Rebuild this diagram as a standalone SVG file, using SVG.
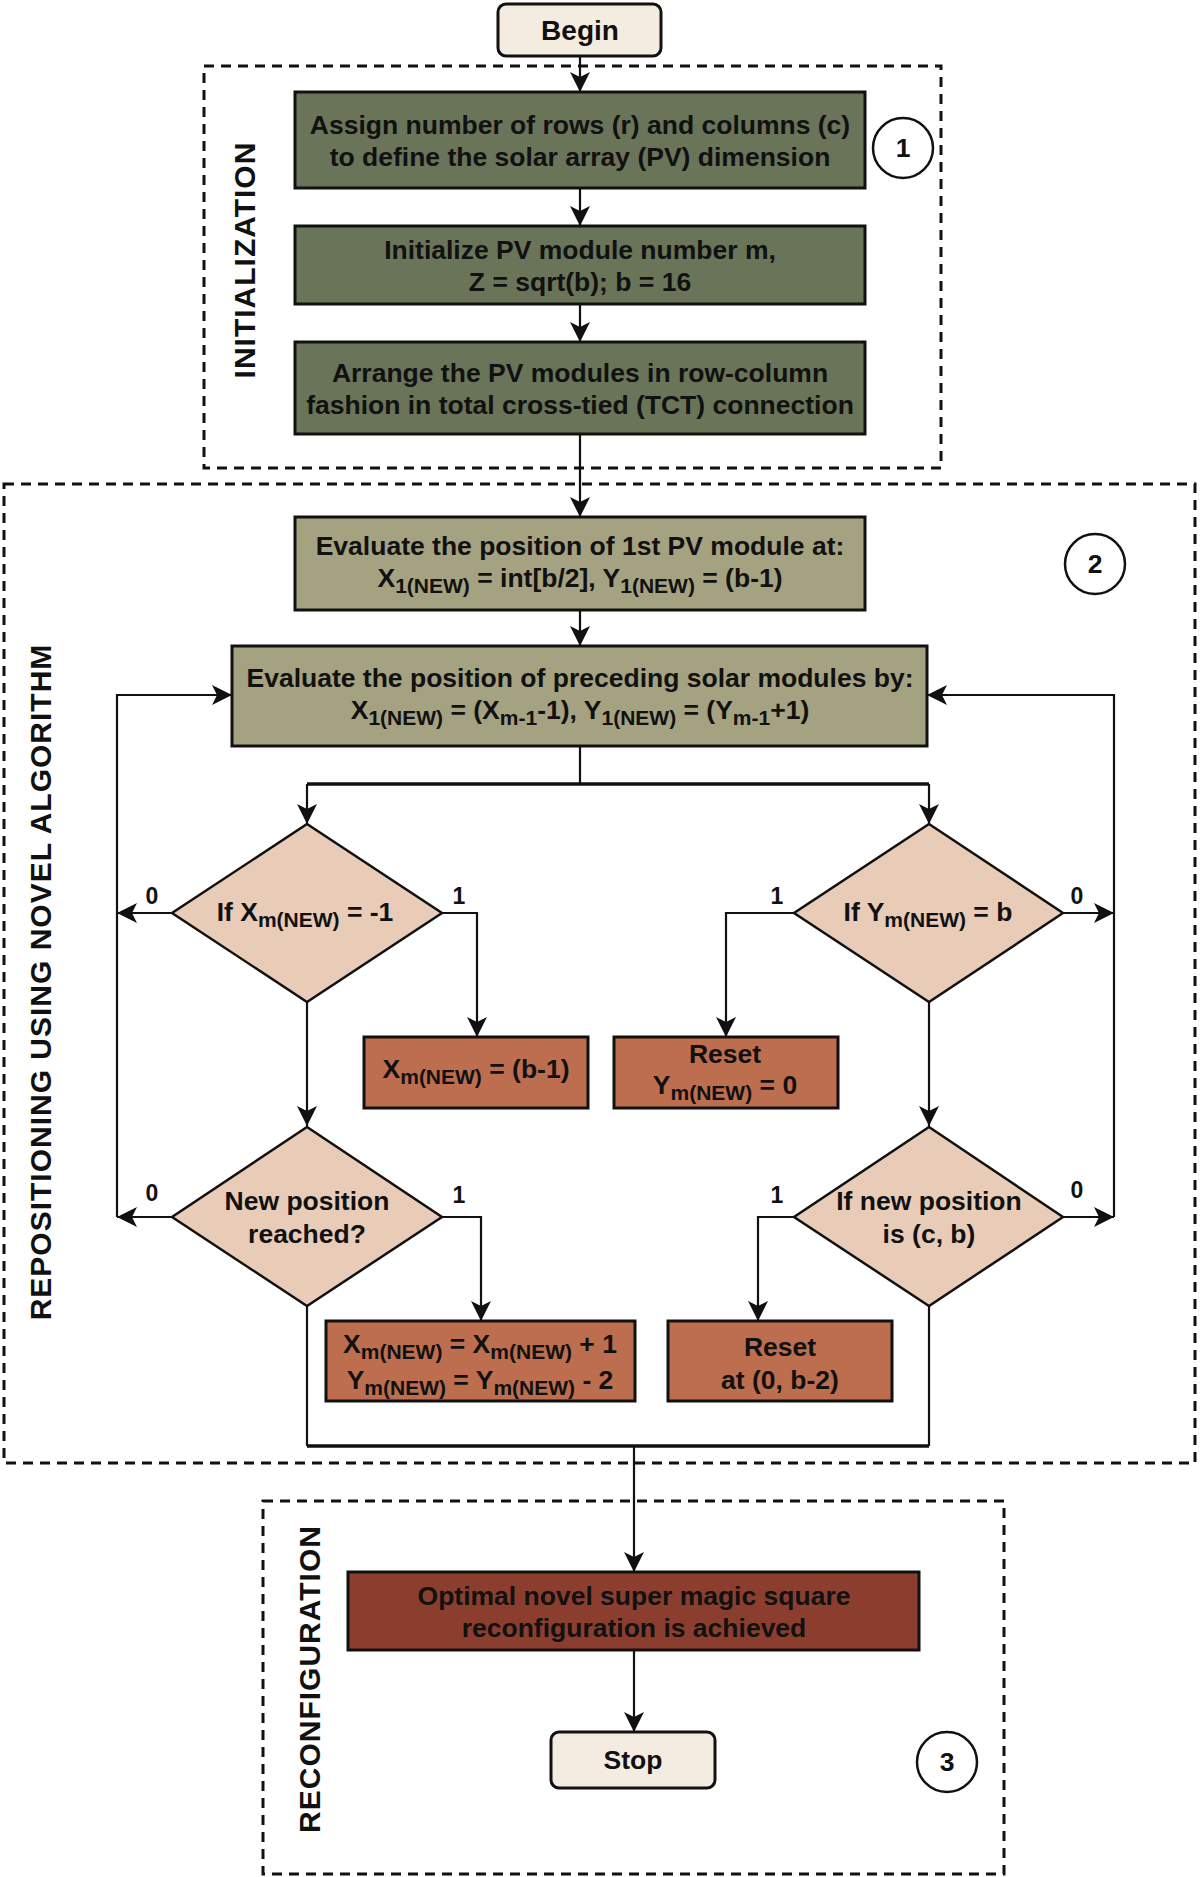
<svg xmlns="http://www.w3.org/2000/svg" width="1200" height="1877" viewBox="0 0 1200 1877">
<defs>
<marker id="arr" markerUnits="userSpaceOnUse" markerWidth="20" markerHeight="20" refX="20" refY="10" orient="auto">
<path d="M0,0 L20,10 L0,20 L5,10 z" fill="#111"/>
</marker>
<style>
.t{font-family:"Liberation Sans",Arial,sans-serif;font-weight:bold;font-size:26.5px;fill:#111;text-anchor:middle}
.lbl{font-family:"Liberation Sans",Arial,sans-serif;font-weight:bold;font-size:23px;fill:#111;text-anchor:middle}
.vt{font-family:"Liberation Sans",Arial,sans-serif;font-weight:bold;font-size:30px;fill:#111;text-anchor:middle;letter-spacing:1px}
.sub{font-size:21px}
.dash{fill:none;stroke:#111;stroke-width:3;stroke-dasharray:10 7}
.term{fill:#f5ece1;stroke:#111;stroke-width:3}
.g1{fill:#6a7458;stroke:#111;stroke-width:3}
.g2{fill:#a5a281;stroke:#111;stroke-width:3}
.dia{fill:#e8ccb8;stroke:#111;stroke-width:2.5}
.or{fill:#bd6e4e;stroke:#111;stroke-width:3}
.rd{fill:#8c3e2e;stroke:#111;stroke-width:3}
.num{fill:#fff;stroke:#111;stroke-width:2.5}
.c{fill:none;stroke:#111;stroke-width:2.2}
.ca{fill:none;stroke:#111;stroke-width:2.2;marker-end:url(#arr)}
.thick{fill:none;stroke:#111;stroke-width:3.5}
</style>
</defs>
<rect width="1200" height="1877" fill="#fff"/>

<g id="groups">
<rect class="dash" x="204" y="66" width="737" height="402"/>
<rect class="dash" x="4" y="484" width="1191" height="979"/>
<rect class="dash" x="263" y="1501" width="741" height="373"/>
<text class="vt" transform="translate(244,260) rotate(-90)" y="10.7">INITIALIZATION</text>
<text class="vt" transform="translate(40,982) rotate(-90)" y="10.7">REPOSITIONING USING NOVEL ALGORITHM</text>
<text class="vt" transform="translate(309,1679) rotate(-90)" y="10.7">RECONFIGURATION</text>
</g>

<g id="connectors">
<line class="ca" x1="580" y1="56" x2="580" y2="92"/>
<line class="ca" x1="580" y1="188" x2="580" y2="226"/>
<line class="ca" x1="580" y1="304" x2="580" y2="342"/>
<line class="ca" x1="580" y1="434" x2="580" y2="517"/>
<line class="ca" x1="580" y1="610" x2="580" y2="646"/>
<line class="c" x1="580" y1="746" x2="580" y2="784"/>
<polyline class="thick" points="307,784 929,784"/>
<line class="ca" x1="307" y1="784" x2="307" y2="824"/>
<line class="ca" x1="929" y1="784" x2="929" y2="824"/>
<line class="ca" x1="172" y1="913" x2="117" y2="913"/>
<polyline class="ca" points="442,913 477,913 477,1037"/>
<line class="ca" x1="307" y1="1002" x2="307" y2="1126"/>
<line class="ca" x1="1063" y1="913" x2="1114" y2="913"/>
<polyline class="ca" points="794,913 726,913 726,1037"/>
<line class="ca" x1="929" y1="1002" x2="929" y2="1126"/>
<line class="ca" x1="172" y1="1217" x2="117" y2="1217"/>
<polyline class="ca" points="442,1217 481,1217 481,1321"/>
<line class="ca" x1="1063" y1="1217" x2="1114" y2="1217"/>
<polyline class="ca" points="794,1217 758,1217 758,1321"/>
<polyline class="ca" points="117,1217 117,695 232,695"/>
<polyline class="ca" points="1114,1217 1114,695 927,695"/>
<line class="c" x1="307" y1="1306" x2="307" y2="1446"/>
<line class="c" x1="929" y1="1306" x2="929" y2="1446"/>
<polyline class="thick" points="307,1446 929,1446"/>
<line class="ca" x1="634" y1="1446" x2="634" y2="1572"/>
<line class="ca" x1="634" y1="1650" x2="634" y2="1732"/>
</g>

<g id="begin">
<rect class="term" x="498" y="4" width="163" height="52" rx="8"/>
<text class="t" x="580" y="40" style="font-size:28px">Begin</text>
</g>

<g id="assign">
<rect class="g1" x="295" y="92" width="570" height="96"/>
<text class="t" x="580" y="133.5">Assign number of rows (r) and columns (c)</text>
<text class="t" x="580" y="165.5">to define the solar array (PV) dimension</text>
</g>

<g id="marker1">
<circle class="num" cx="903" cy="148" r="30"/>
<text class="t" x="903" y="157">1</text>
</g>

<g id="initialize">
<rect class="g1" x="295" y="226" width="570" height="78"/>
<text class="t" x="580" y="258.5">Initialize PV module number m,</text>
<text class="t" x="580" y="290.5">Z = sqrt(b); b = 16</text>
</g>

<g id="arrange">
<rect class="g1" x="295" y="342" width="570" height="92"/>
<text class="t" x="580" y="381.5">Arrange the PV modules in row-column</text>
<text class="t" x="580" y="413.5">fashion in total cross-tied (TCT) connection</text>
</g>

<g id="eval1">
<rect class="g2" x="295" y="517" width="570" height="93"/>
<text class="t" x="580" y="555">Evaluate the position of 1st PV module at:</text>
<text class="t" x="580" y="587">X<tspan class="sub" dy="6">1(NEW)</tspan><tspan dy="-6"> = int[b/2], Y</tspan><tspan class="sub" dy="6">1(NEW)</tspan><tspan dy="-6"> = (b-1)</tspan></text>
</g>

<g id="marker2">
<circle class="num" cx="1095" cy="564" r="30"/>
<text class="t" x="1095" y="573">2</text>
</g>

<g id="eval2">
<rect class="g2" x="232" y="646" width="695" height="100"/>
<text class="t" x="580" y="687">Evaluate the position of preceding solar modules by:</text>
<text class="t" x="580" y="719">X<tspan class="sub" dy="6">1(NEW)</tspan><tspan dy="-6"> = (X</tspan><tspan class="sub" dy="6">m-1</tspan><tspan dy="-6">-1), Y</tspan><tspan class="sub" dy="6">1(NEW)</tspan><tspan dy="-6"> = (Y</tspan><tspan class="sub" dy="6">m-1</tspan><tspan dy="-6">+1)</tspan></text>
</g>

<g id="decX">
<polygon class="dia" points="307,824 442,913 307,1002 172,913"/>
<text class="t" x="305" y="921">If X<tspan class="sub" dy="6">m(NEW)</tspan><tspan dy="-6"> = -1</tspan></text>
<text class="lbl" x="152" y="904">0</text>
<text class="lbl" x="459" y="904">1</text>
</g>

<g id="decY">
<polygon class="dia" points="929,824 1063,913 929,1002 794,913"/>
<text class="t" x="928" y="921">If Y<tspan class="sub" dy="6">m(NEW)</tspan><tspan dy="-6"> = b</tspan></text>
<text class="lbl" x="777" y="904">1</text>
<text class="lbl" x="1077" y="904">0</text>
</g>

<g id="setX">
<rect class="or" x="364" y="1037" width="224" height="71"/>
<text class="t" x="476" y="1078">X<tspan class="sub" dy="6">m(NEW)</tspan><tspan dy="-6"> = (b-1)</tspan></text>
</g>

<g id="resetY">
<rect class="or" x="614" y="1037" width="224" height="71"/>
<text class="t" x="725" y="1063">Reset</text>
<text class="t" x="725" y="1094">Y<tspan class="sub" dy="6">m(NEW)</tspan><tspan dy="-6"> = 0</tspan></text>
</g>

<g id="decNew">
<polygon class="dia" points="307,1127 442,1217 307,1306 172,1217"/>
<text class="t" x="307" y="1210">New position</text>
<text class="t" x="307" y="1243">reached?</text>
<text class="lbl" x="152" y="1201">0</text>
<text class="lbl" x="459" y="1203">1</text>
</g>

<g id="decCB">
<polygon class="dia" points="929,1127 1063,1217 929,1306 794,1217"/>
<text class="t" x="929" y="1210">If new position</text>
<text class="t" x="929" y="1243">is (c, b)</text>
<text class="lbl" x="777" y="1203">1</text>
<text class="lbl" x="1077" y="1198">0</text>
</g>

<g id="update">
<rect class="or" x="326" y="1321" width="309" height="80"/>
<text class="t" x="480" y="1353">X<tspan class="sub" dy="6">m(NEW)</tspan><tspan dy="-6"> = X</tspan><tspan class="sub" dy="6">m(NEW)</tspan><tspan dy="-6"> + 1</tspan></text>
<text class="t" x="480" y="1389">Y<tspan class="sub" dy="6">m(NEW)</tspan><tspan dy="-6"> = Y</tspan><tspan class="sub" dy="6">m(NEW)</tspan><tspan dy="-6"> - 2</tspan></text>
</g>

<g id="resetAt">
<rect class="or" x="668" y="1321" width="224" height="80"/>
<text class="t" x="780" y="1356">Reset</text>
<text class="t" x="780" y="1389">at (0, b-2)</text>
</g>

<g id="optimal">
<rect class="rd" x="348" y="1572" width="571" height="78"/>
<text class="t" x="634" y="1605">Optimal novel super magic square</text>
<text class="t" x="634" y="1637">reconfiguration is achieved</text>
</g>

<g id="stop">
<rect class="term" x="551" y="1732" width="164" height="56" rx="8"/>
<text class="t" x="633" y="1769">Stop</text>
</g>

<g id="marker3">
<circle class="num" cx="947" cy="1762" r="30"/>
<text class="t" x="947" y="1771">3</text>
</g>
</svg>
